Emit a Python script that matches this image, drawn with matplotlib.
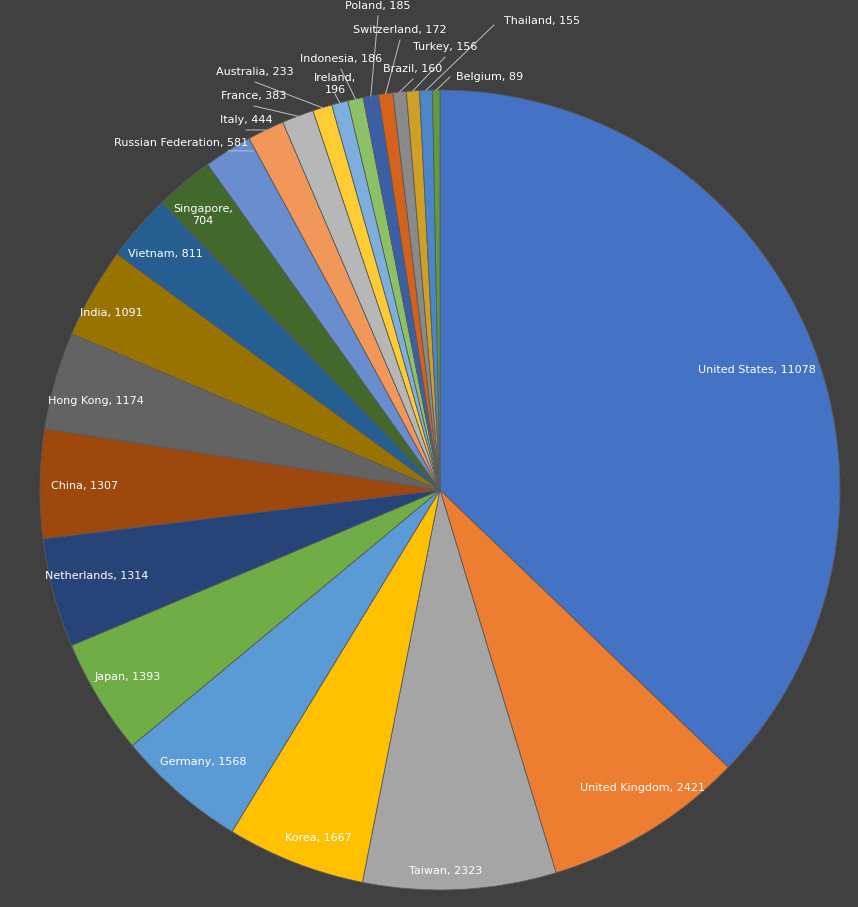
import matplotlib
matplotlib.use("Agg")
import matplotlib.pyplot as plt
import numpy as np

countries = ["United States","United Kingdom","Taiwan","Korea","Germany","Japan","Netherlands",
             "China","Hong Kong","India","Vietnam","Singapore","Russian Federation","Italy","France",
             "Australia","Ireland","Indonesia","Poland","Switzerland","Brazil","Turkey","Thailand","Belgium"]
values = [11078,2421,2323,1667,1568,1393,1314,1307,1174,1091,811,704,581,444,383,233,196,186,185,172,160,156,155,89]
colors = ["#4472C4","#ED7D31","#A5A5A5","#FFC000","#5B9BD5","#70AD47",
          "#264478","#9E480E","#636363","#997300","#255E91","#43682B",
          "#698ED0","#F1975A","#B7B7B7","#FFCD33","#7CAFDD","#8CC168",
          "#3A5FA5","#D4621A","#8A8A8A","#CFA026","#4A86C8","#5F9C3D"]
# label pixel positions (layout only)
lab_px = [(757,370),(643,788),(446,871),(318,838),(203,762),(128,677),(97,576),(85,486),
          (96,401),(111,313),(165,254),(203,215),(181,143),(246,120),(254,96),(255,72),
          (335,84),(341,59),(378,6),(400,30),(413,69),(445,47),(542,21),(490,77)]
outside_from = 12

W, H = 858, 907
cx, cy, R = 440, 490, 400
fig = plt.figure(figsize=(W/100, H/100), dpi=100)
fig.patch.set_facecolor("#404040")
ax = fig.add_axes([0, 0, 1, 1])
ax.set_facecolor("#404040")

wedges, _ = ax.pie(values, colors=colors, startangle=90, counterclock=False, radius=1,
                   wedgeprops=dict(edgecolor="#5a5a5a", linewidth=0.6))
ax.set_aspect("auto")
ax.set_xlim(-cx/R, (W-cx)/R)
ax.set_ylim(-(H-cy)/R, cy/R)
ax.axis("off")

def to_data(p):
    return ((p[0]-cx)/R, (cy-p[1])/R)

for i, (w, name, v) in enumerate(zip(wedges, countries, values)):
    x, y = to_data(lab_px[i])
    txt = f"{name}, {v}"
    if name in ("Singapore", "Ireland"):
        txt = f"{name},\n{v}"
    ax.text(x, y, txt, ha="center", va="center", color="white", fontsize=8,
            family="DejaVu Sans", linespacing=1.3)
    if i >= outside_from:
        ang = np.deg2rad((w.theta1 + w.theta2) / 2)
        ex, ey = np.cos(ang), np.sin(ang)
        if name == "Thailand":
            sx, sy = x - 0.12, y - 0.01
        elif name == "Belgium":
            sx, sy = x - 0.1, y
        elif name == "Russian Federation":
            sx, sy = x + 0.18, y - 0.02
        else:
            sx, sy = x, y - 0.025
        ax.plot([sx, ex], [sy, ey], color="#bfbfbf", lw=0.7)

fig.savefig("out.png", dpi=100, facecolor=fig.get_facecolor())
